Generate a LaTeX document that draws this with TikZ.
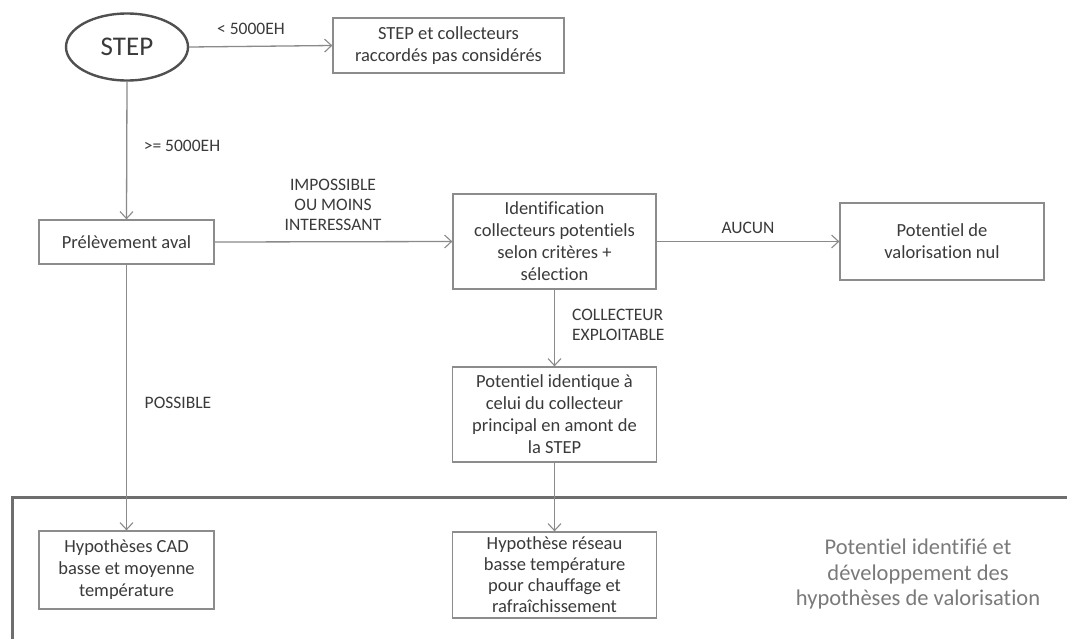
\documentclass[tikz,border=0pt]{standalone}
\usepackage{fontspec}
\setmainfont{Carlito}[Ligatures=NoCommon]
\usetikzlibrary{arrows.meta,shapes.geometric}
\definecolor{boxline}{HTML}{8C8C8C}
\definecolor{conn}{HTML}{8A8A8A}
\definecolor{txt}{HTML}{3A3A3A}
\definecolor{ellline}{HTML}{505050}
\definecolor{frameline}{HTML}{6E6E6E}
\definecolor{sidetxt}{HTML}{7A7A7A}
\begin{document}
\begin{tikzpicture}[x=1pt,y=-1pt,
  box/.style={draw=boxline,line width=1.3pt,rectangle,align=center,text=txt,
    font=\fontsize{18.5}{22}\selectfont,inner sep=0pt},
  lbl/.style={text=txt,font=\fontsize{17.5}{20}\selectfont,align=center,inner sep=0pt},
  conn/.style={draw=conn,line width=1.3pt,-{Straight Barb[length=7pt,width=13pt,line width=1.1pt]}}]
\useasboundingbox (0,0) rectangle (1067,638);
\fill[white] (0,0) rectangle (1067,638);
% frame
\draw[frameline,line width=3pt] (1067,497) -- (12,497) -- (12,640);
% nodes
\node[ellipse,draw=ellline,line width=2.4pt,minimum width=122pt,minimum height=67pt,inner sep=0pt,
  text=txt,font=\fontsize{27}{30}\selectfont] (step) at (127,47) {STEP};
\node[box,minimum width=231pt,minimum height=55pt] (stepno) at (448.5,45.5)
  {STEP et collecteurs\\raccordés pas considérés};
\node[box,minimum width=175pt,minimum height=44pt] (prel) at (126.5,242) {Prélèvement aval};
\node[box,minimum width=203pt,minimum height=95pt] (ident) at (554.5,241.5)
  {Identification\\collecteurs potentiels\\selon critères +\\sélection};
\node[box,minimum width=204pt,minimum height=77pt] (nul) at (942,241.5)
  {Potentiel de\\valorisation nul};
\node[box,minimum width=204pt,minimum height=95pt] (potid) at (554.5,414.5)
  {Potentiel identique à\\celui du collecteur\\principal en amont de\\la STEP};
\node[box,minimum width=175pt,minimum height=78pt] (cad) at (126.5,570)
  {Hypothèses CAD\\basse et moyenne\\température};
\node[box,minimum width=204pt,minimum height=86pt,font=\fontsize{18.5}{21}\selectfont] (reseau) at (554.5,575)
  {Hypothèse réseau\\basse température\\pour chauffage et\\rafraîchissement};
\node[text=sidetxt,align=center,font=\fontsize{22.5}{25.5}\selectfont,inner sep=0pt] (side) at (918,574)
  {Potentiel identifié et\\développement des\\hypothèses de valorisation};
% connectors
\draw[conn] (step.east) -- (stepno.west);
\draw[conn] (step.south) -- (prel.north);
\draw[conn] (prel.east) -- (ident.west);
\draw[conn] (ident.east) -- (nul.west);
\draw[conn] (ident.south) -- (potid.north);
\draw[conn] (prel.south) -- (cad.north);
\draw[conn] (potid.south) -- (reseau.north);
% labels
\node[lbl] (l1) at (251,29) {< 5000EH};
\node[lbl] (l2) at (182,146) {>= 5000EH};
\node[lbl] (l3) at (333,205) {IMPOSSIBLE\\OU MOINS\\INTERESSANT};
\node[lbl] (l4) at (748,228) {AUCUN};
\node[lbl,align=left,anchor=west] (l5) at (572,325) {COLLECTEUR\\EXPLOITABLE};
\node[lbl] (l6) at (178,403) {POSSIBLE};
\end{tikzpicture}
\end{document}
